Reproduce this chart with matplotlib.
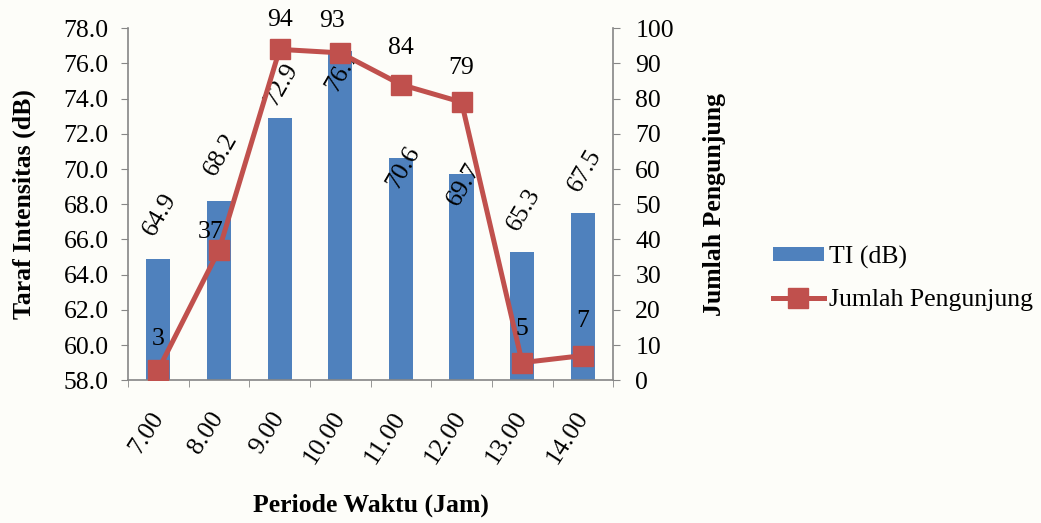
import numpy as np
import matplotlib.pyplot as plt
from matplotlib.ticker import FixedLocator

plt.rcParams['font.family'] = ['Liberation Serif', 'DejaVu Serif']

jam = ['7.00', '8.00', '9.00', '10.00', '11.00', '12.00', '13.00', '14.00']
ti_db = [64.9, 68.2, 72.9, 76.7, 70.6, 69.7, 65.3, 67.5]
pengunjung = [3, 37, 94, 93, 84, 79, 5, 7]

# geseran label (piksel) supaya tidak bertabrakan dengan garis
geser_ti = [44, 46, 34, -19, -9, -10, 42, 43]
geser_jml = [(0, 31), (-8, 18), (0, 29), (-8, 32), (0, 37), (0, 34), (0, 34), (0, 35)]

biru = '#4F81BD'
merah = '#C0504D'
abu = '#868686'
fs = 18.5
px = 72 / 100  # piksel -> poin

fig = plt.figure(figsize=(10.41, 5.23), dpi=100, facecolor='#fdfdf9')
ax = fig.add_axes([0.123, 0.273, 0.466, 0.673])
ax.set_facecolor('none')
x = np.arange(len(jam))

bars = ax.bar(x, np.array(ti_db) - 58, bottom=58, width=0.4, color=biru,
              label='TI (dB)', zorder=2)
ax.set_ylim(58, 78)
ax.set_xlim(-0.5, len(jam) - 0.5)
yt = np.arange(58, 78.1, 2)
ax.set_yticks(yt)
ax.set_yticklabels([f'{v:.1f}' for v in yt])
ax.set_xticks(x)
ax.set_xticklabels(jam, rotation=57, rotation_mode='anchor', ha='right', va='center')
ax.xaxis.set_minor_locator(FixedLocator(np.arange(-0.5, len(jam), 1)))
ax.tick_params(axis='x', which='major', length=0, pad=24, labelsize=fs)
ax.tick_params(axis='x', which='minor', length=5, color=abu, direction='out')
ax.tick_params(axis='y', length=5, color=abu, labelsize=fs, pad=9)
for s in ['top', 'right']:
    ax.spines[s].set_visible(False)
for s in ['left', 'bottom']:
    ax.spines[s].set_color(abu)
    ax.spines[s].set_linewidth(1.2)

# label nilai TI di atas batang
for xi, v, d in zip(x, ti_db, geser_ti):
    ax.annotate(f'{v:.1f}', (xi, v), xytext=(2 * px, d * px), textcoords='offset points',
                rotation=60, ha='center', va='center', fontsize=fs, zorder=3)

ax2 = ax.twinx()
ax2.set_position(ax.get_position())
ln, = ax2.plot(x, pengunjung, color=merah, lw=3.6, marker='s', markersize=14,
               label='Jumlah Pengunjung', zorder=4)
ax2.set_ylim(0, 100)
ax2.set_yticks(np.arange(0, 101, 10))
ax2.tick_params(axis='y', length=5, color=abu, labelsize=fs, pad=11)
for s in ['top', 'left', 'bottom']:
    ax2.spines[s].set_visible(False)
ax2.spines['right'].set_color(abu)
ax2.spines['right'].set_linewidth(1.2)

for xi, v, (dx, dy) in zip(x, pengunjung, geser_jml):
    ax2.annotate(str(v), (xi, v), xytext=(dx * px, dy * px), textcoords='offset points',
                 ha='center', va='center', fontsize=fs, zorder=5)

ax.set_ylabel('Taraf Intensitas (dB)', fontsize=fs, fontweight='bold', labelpad=20)
ax2.set_ylabel('Jumlah Pengunjung', fontsize=fs, fontweight='bold', labelpad=21)
ax.set_xlabel('Periode Waktu (Jam)', fontsize=fs, fontweight='bold', labelpad=18)

fig.legend(handles=[bars, ln], loc='center left', bbox_to_anchor=(0.72, 0.468),
           frameon=False, fontsize=fs, handlelength=2.0, handleheight=0.5,
           handletextpad=0.2, labelspacing=0.8)

fig.savefig('out.png', dpi=100, facecolor=fig.get_facecolor())
